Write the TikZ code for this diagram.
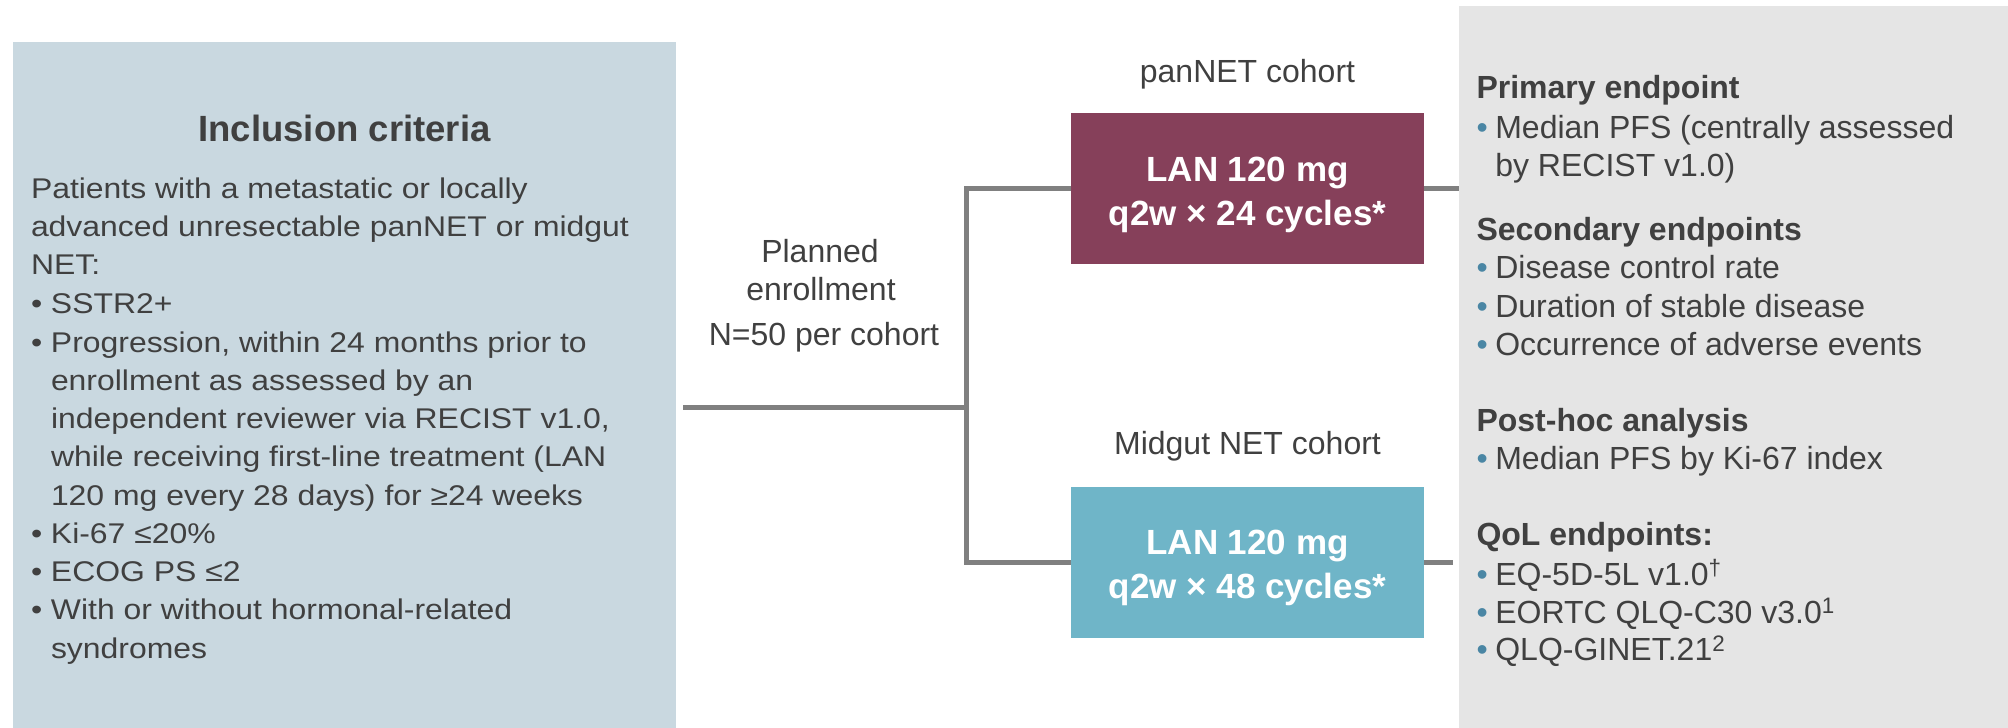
\documentclass[tikz,border=0pt]{standalone}
\usepackage{fontspec}
\setmainfont{Liberation Sans}
\newfontfamily\critfont{Liberation Sans}[FakeStretch=1.12]
\definecolor{inclbg}{RGB}{201,216,224}
\definecolor{endbg}{RGB}{229,229,229}
\definecolor{panred}{RGB}{134,64,90}
\definecolor{midblue}{RGB}{111,181,200}
\definecolor{txtgray}{RGB}{64,64,64}
\definecolor{bulblue}{RGB}{74,134,164}
\definecolor{linegray}{RGB}{128,128,128}
\newcommand{\lbul}{\makebox[20pt][l]{•}}
\newcommand{\lind}{\hspace*{20pt}}
\newcommand{\rbul}{\makebox[18.8pt][l]{\textcolor{bulblue}{•}}}
\newcommand{\rind}{\hspace*{18.8pt}}
\begin{document}
\begin{tikzpicture}[x=1pt,y=-1pt,
    every node/.style={inner sep=0pt,outer sep=0pt,text=txtgray},
    conn/.style={draw=linegray,line width=5pt},
    cohortbox/.style={minimum width=353pt,minimum height=151pt},
    boxtext/.style={text=white,font=\fontsize{35}{44}\selectfont\bfseries,anchor=base},
    midtext/.style={font=\fontsize{32}{38}\selectfont,anchor=base},
    crittext/.style={font=\critfont\fontsize{28.5}{38}\selectfont,anchor=base west},
    endtext/.style={font=\fontsize{32}{38}\selectfont,anchor=base west},
    endhead/.style={font=\fontsize{32}{38}\selectfont\bfseries,anchor=base west}]
    \useasboundingbox (0,0) rectangle (2008,728);

    % pannelli di sfondo
    \node[fill=inclbg,minimum width=663pt,minimum height=686pt] (incl) at (344.5,385) {};
    \node[fill=endbg,minimum width=549pt,minimum height=722pt] (endp) at (1733.5,367) {};

    % criteri di inclusione
    \node[font=\fontsize{36.5}{44}\selectfont\bfseries,anchor=base] (incltitle) at (344.5,141.6) {Inclusion criteria};
    \foreach \y/\t [count=\i] in {
        198.7/{Patients with a metastatic or locally},
        236.8/{advanced unresectable panNET or midgut},
        274.8/{NET:},
        313.4/{\lbul SSTR2+},
        352.8/{\lbul Progression, within 24 months prior to},
        390.0/{\lind enrollment as assessed by an},
        428.0/{\lind independent reviewer via RECIST v1.0,},
        466.6/{\lind while receiving first-line treatment (LAN},
        505.0/{\lind 120 mg every 28 days) for ≥24 weeks},
        543.0/{\lbul Ki-67 ≤20\%},
        581.7/{\lbul ECOG PS ≤2},
        619.8/{\lbul With or without hormonal-related},
        658.3/{\lind syndromes}}
        \node[crittext] (crit\i) at (31,\y) {\t};

    % arruolamento
    \node[midtext] (plan1) at (820,262) {Planned};
    \node[midtext] (plan2) at (821,300) {enrollment};
    \node[midtext] (plan3) at (824,345) {N=50 per cohort};

    % coorti
    \node[midtext] (panlab) at (1247.5,82) {panNET cohort};
    \node[midtext] (midlab) at (1247.5,454.6) {Midgut NET cohort};
    \node[cohortbox,fill=panred] (panbox) at (1247.5,188.7) {};
    \node[cohortbox,fill=midblue] (midbox) at (1247.5,562) {};
    \node[boxtext] (pan1) at (1247.5,181) {LAN 120 mg};
    \node[boxtext] (pan2) at (1247.5,225) {q2w × 24 cycles*};
    \node[boxtext] (mid1) at (1247.5,554) {LAN 120 mg};
    \node[boxtext] (mid2) at (1247.5,598.3) {q2w × 48 cycles*};

    % collegamenti
    \coordinate (start) at (683,407);
    \coordinate (split) at (966,407);
    \coordinate (midend) at (1453,562);
    \draw[conn] (start) -- (split);
    \draw[conn] (panbox.west) -| (split) |- (midbox.west);
    \draw[conn] (panbox.east) -- (panbox.east -| endp.west);
    \draw[conn] (midbox.east) -- (midend);

    % endpoint
    \foreach \y/\s/\t [count=\i] in {
        98.9/endhead/{Primary endpoint},
        138.3/endtext/{\rbul Median PFS (centrally assessed},
        176.4/endtext/{\rind by RECIST v1.0)},
        240.0/endhead/{Secondary endpoints},
        278.6/endtext/{\rbul Disease control rate},
        317.0/endtext/{\rbul Duration of stable disease},
        355.0/endtext/{\rbul Occurrence of adverse events},
        431.8/endhead/{Post-hoc analysis},
        469.8/endtext/{\rbul Median PFS by Ki-67 index},
        545.5/endhead/{QoL endpoints:},
        585.0/endtext/{\rbul EQ-5D-5L v1.0\textsuperscript{†}},
        623.0/endtext/{\rbul EORTC QLQ-C30 v3.0\textsuperscript{1}},
        660.6/endtext/{\rbul QLQ-GINET.21\textsuperscript{2}}}
        \node[\s] (endp\i) at (1476.5,\y) {\t};
\end{tikzpicture}
\end{document}
